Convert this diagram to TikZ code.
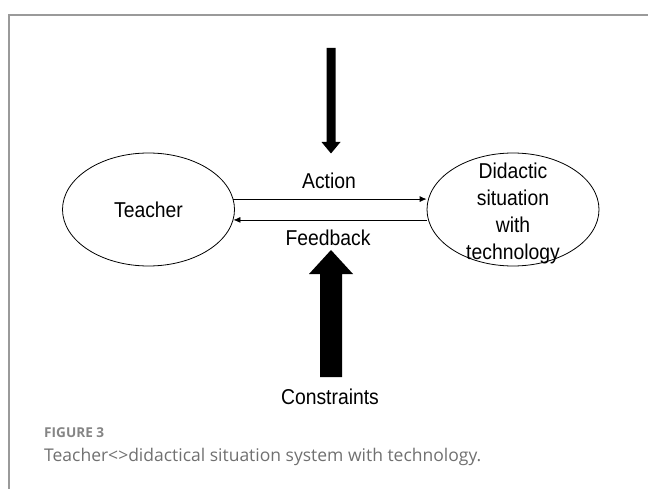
\documentclass[tikz,border=0pt]{standalone}
\usepackage{fontspec}
\setmainfont{Liberation Sans}[FakeStretch=0.9]
\newfontfamily\capfont{Open Sans}
\usetikzlibrary{shapes.geometric,arrows.meta}
\definecolor{framegray}{HTML}{9A9A9A}
\definecolor{capgray}{HTML}{707070}
\begin{document}
\begin{tikzpicture}[x=1pt,y=-1pt,
  oval/.style={draw,ellipse,line width=0.8pt,inner sep=0pt,minimum width=172pt,minimum height=113pt,
    font=\fontsize{21.5}{27}\selectfont,align=center},
  lbl/.style={font=\fontsize{21.5}{27}\selectfont,inner sep=0pt,align=center},
  flow/.style={line width=0.8pt,-{Latex[length=7pt,width=6pt]}},
  blockarrow/.style={fill=black,draw=none}]
\useasboundingbox (0,0) rectangle (648,489);
% frame
\draw[framegray,line width=1.2pt] (9,489) -- (9,15) -- (648,15);
% ellipses
\node[oval] (teacher) at (148.5,209.5) {Teacher};
\node[oval] (didactic) at (513,209.5) {};
\node[lbl] (didactictext) at (513,213) {Didactic\\situation\\with\\technology};
% horizontal flows
\draw[flow] (teacher.7.5) -- (teacher.7.5 -| didactic.west);
\draw[flow] (didactic.west |- teacher.-7.5) -- (teacher.-7.5);
% labels
\node[lbl] (action) at (329,181) {Action};
\node[lbl] (feedback) at (328,238) {Feedback};
\node[lbl] (constraints) at (330,397) {Constraints};
% block arrows
\fill[blockarrow] (326.5,48) -- (335.5,48) -- (335.5,142) -- (340.5,142) -- (331,153.5) -- (321.5,142) -- (326.5,142) -- cycle;
\fill[blockarrow] (320,377) -- (342,377) -- (342,274) -- (353,274) -- (331,250) -- (309,274) -- (320,274) -- cycle;
% caption
\node[anchor=base west,inner sep=0pt,text=capgray!85,font=\capfont\fontsize{13.6}{16}\selectfont\bfseries] (fig) at (44,437.7) {FIGURE 3};
\node[anchor=base west,inner sep=0pt,text=capgray,font=\capfont\fontsize{17.5}{21}\selectfont] (cap) at (44,461) {Teacher<>didactical situation system with technology.};
\end{tikzpicture}
\end{document}
